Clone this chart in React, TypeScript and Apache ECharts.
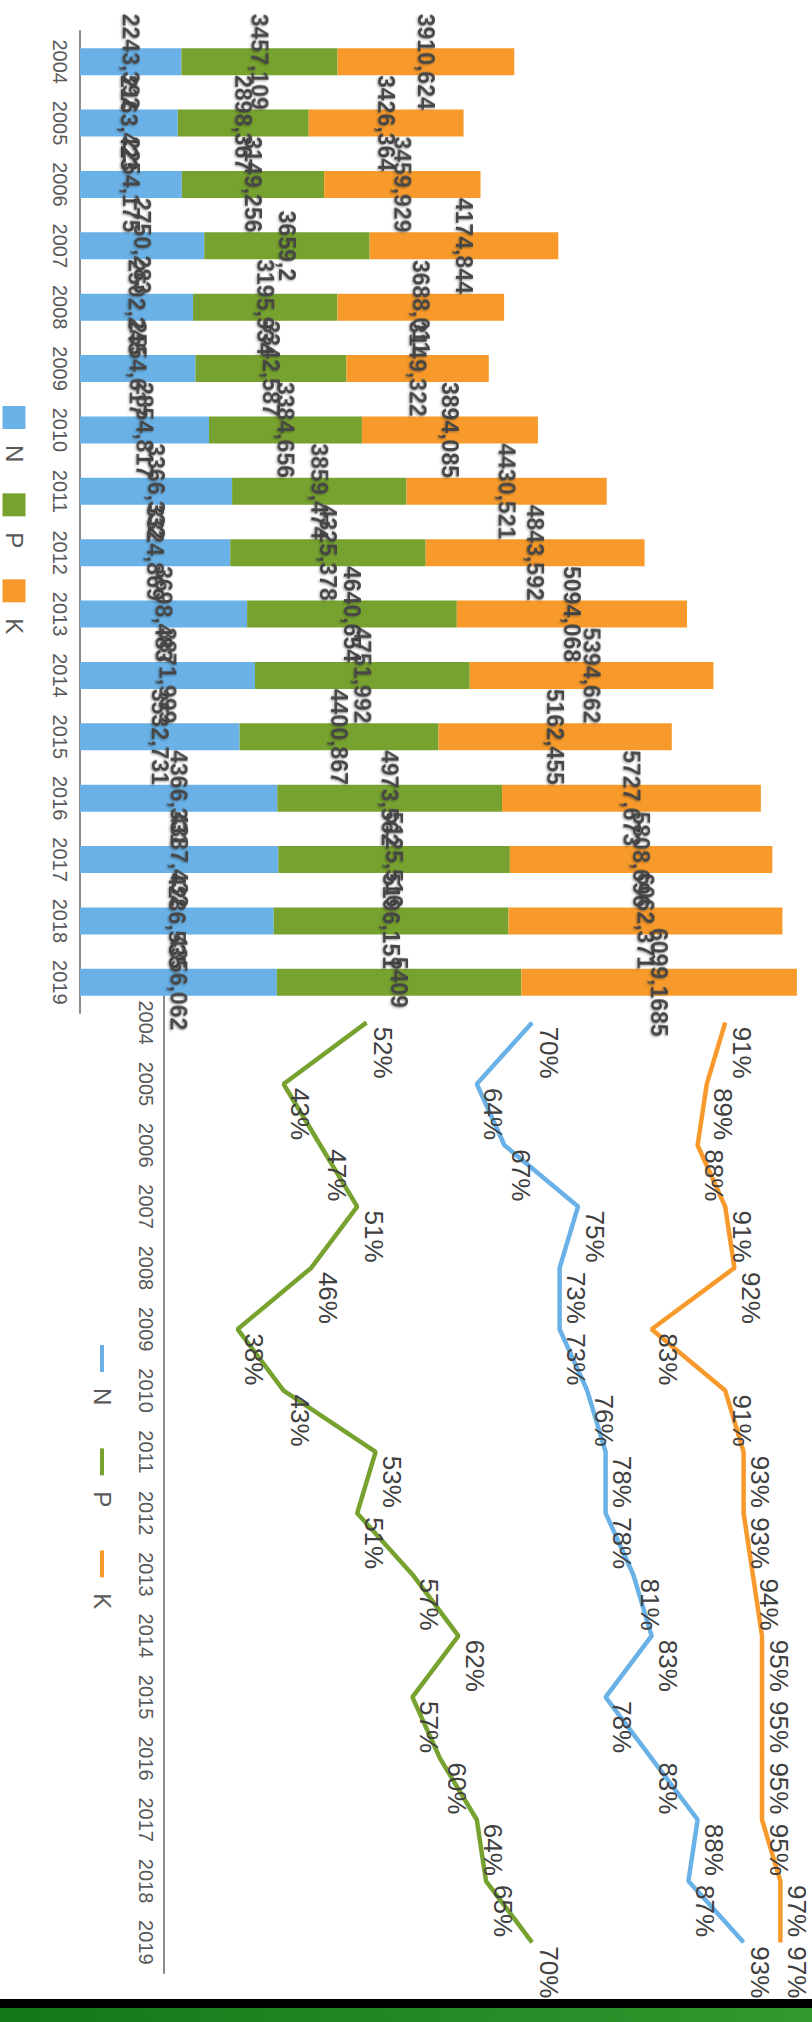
import React, { useEffect, useRef } from "react";
import * as echarts from "echarts";

const years = ["2004", "2005", "2006", "2007", "2008", "2009", "2010", "2011", "2012", "2013", "2014", "2015", "2016", "2017", "2018", "2019"];

const nAmounts = [2243.392, 2163.423, 2254.175, 2750.283, 2502.245, 2554.617, 2854.817, 3366.332, 3324.869, 3698.483, 3871.999, 3532.731, 4366.331, 4387.432, 4286.535, 4356.062];
const pAmounts = [3457.109, 2898.367, 3149.256, 3659.2, 3195.934, 3342.587, 3384.656, 3859.474, 4325.378, 4640.654, 4751.992, 4400.867, 4973.562, 5125.516, 5196.151, 5409];
const kAmounts = [3910.624, 3426.364, 3459.929, 4174.844, 3688.011, 3149.322, 3894.085, 4430.521, 4843.592, 5094.068, 5394.662, 5162.455, 5727.673, 5808.696, 6062.371, 6099.1685];

const nRates = [0.70, 0.64, 0.67, 0.75, 0.73, 0.73, 0.76, 0.78, 0.78, 0.81, 0.83, 0.78, 0.83, 0.88, 0.87, 0.93];
const pRates = [0.52, 0.43, 0.47, 0.51, 0.46, 0.38, 0.43, 0.53, 0.51, 0.57, 0.62, 0.57, 0.60, 0.64, 0.65, 0.70];
const kRates = [0.91, 0.89, 0.88, 0.91, 0.92, 0.83, 0.91, 0.93, 0.93, 0.94, 0.95, 0.95, 0.95, 0.95, 0.97, 0.97];

const seriesNames = ["N", "P", "K"];
const colors = ["#69b1e6", "#77a22f", "#f79a2b"];

const FONT = "'Liberation Sans', Arial, sans-serif";

export default function App() {
  const ref = useRef<HTMLDivElement>(null);

  useEffect(() => {
    if (!ref.current) return;
    const chart = echarts.init(ref.current, undefined, { renderer: "svg" });

    const barLabel = {
      show: true,
      position: "inside",
      fontSize: 23,
      fontWeight: "bold",
      fontFamily: FONT,
      color: "#454545",
      textBorderWidth: 0,
      textShadowColor: "rgba(0,0,0,0.35)",
      textShadowBlur: 2,
      textShadowOffsetX: 1,
      textShadowOffsetY: 1,
      formatter: (p: any) => String(p.value).replace(".", ","),
    };

    const lineLabel = {
      show: true,
      position: "top",
      align: "left",
      distance: 3,
      offset: [4, 0],
      fontSize: 26,
      fontFamily: FONT,
      color: "#404040",
      formatter: (p: any) => Math.round(p.value * 100) + "%",
    };

    const amounts = [nAmounts, pAmounts, kAmounts];
    const rates = [nRates, pRates, kRates];

    const option: any = {
      animation: false,
      textStyle: { fontFamily: FONT },
      color: colors,
      grid: [
        { left: 31, top: 9, width: 982, height: 723 },
        { left: 992, top: 4, width: 981, height: 644 },
      ],
      legend: [
        {
          data: seriesNames,
          left: 406,
          top: 786,
          padding: 0,
          icon: "rect",
          itemWidth: 23,
          itemHeight: 23,
          itemGap: 31,
          textStyle: { fontSize: 24, color: "#595959", fontFamily: FONT, padding: [0, 0, 0, 11] },
        },
        {
          data: seriesNames,
          left: 1345,
          top: 698,
          padding: 0,
          icon: "rect",
          itemWidth: 27,
          itemHeight: 4,
          itemGap: 43,
          textStyle: { fontSize: 24, color: "#595959", fontFamily: FONT, padding: [0, 0, 0, 11] },
        },
      ],
      xAxis: [
        {
          type: "category",
          gridIndex: 0,
          data: years,
          axisLine: { lineStyle: { color: "#8c8c8c", width: 2 } },
          axisTick: { show: false },
          axisLabel: { fontSize: 20, color: "#595959", margin: 10, fontFamily: FONT },
        },
        {
          type: "category",
          gridIndex: 1,
          data: years,
          axisLine: { lineStyle: { color: "#8c8c8c", width: 2 } },
          axisTick: { show: false },
          axisLabel: { fontSize: 20, color: "#595959", margin: 8, fontFamily: FONT },
        },
      ],
      yAxis: [
        { type: "value", gridIndex: 0, min: 0, max: 16000, show: false },
        { type: "value", gridIndex: 1, min: 0.3, max: 1.0, show: false },
      ],
      graphic: [
        { type: "rect", left: 1999, top: 0, shape: { width: 9, height: 812 }, style: { fill: "#000" } },
        {
          type: "rect",
          left: 2008,
          top: 0,
          shape: { width: 14, height: 812 },
          style: {
            fill: new echarts.graphic.LinearGradient(0, 0, 0, 1, [
              { offset: 0, color: "#31992f" },
              { offset: 1, color: "#137718" },
            ]),
          },
        },
      ],
      series: [
        ...seriesNames.map((name, i) => ({
          name,
          type: "bar",
          stack: "total",
          xAxisIndex: 0,
          yAxisIndex: 0,
          barWidth: 27,
          itemStyle: { color: colors[i] },
          label: barLabel,
          data: amounts[i],
        })),
        ...seriesNames.map((name, i) => ({
          name,
          type: "line",
          xAxisIndex: 1,
          yAxisIndex: 1,
          symbol: "circle",
          symbolSize: 1,
          itemStyle: { color: colors[i] },
          lineStyle: { color: colors[i], width: 4.5 },
          label: lineLabel,
          data: rates[i],
        })),
      ],
    };

    chart.setOption(option);
    return () => chart.dispose();
  }, []);

  return (
    <div style={{ position: "absolute", left: 0, top: 0, width: 812, height: 2022, overflow: "hidden", background: "#fff" }}>
      <div
        ref={ref}
        style={{
          position: "absolute",
          left: 0,
          top: 0,
          width: 2022,
          height: 812,
          transformOrigin: "0 0",
          transform: "translateX(812px) rotate(90deg)",
        }}
      />
    </div>
  );
}
